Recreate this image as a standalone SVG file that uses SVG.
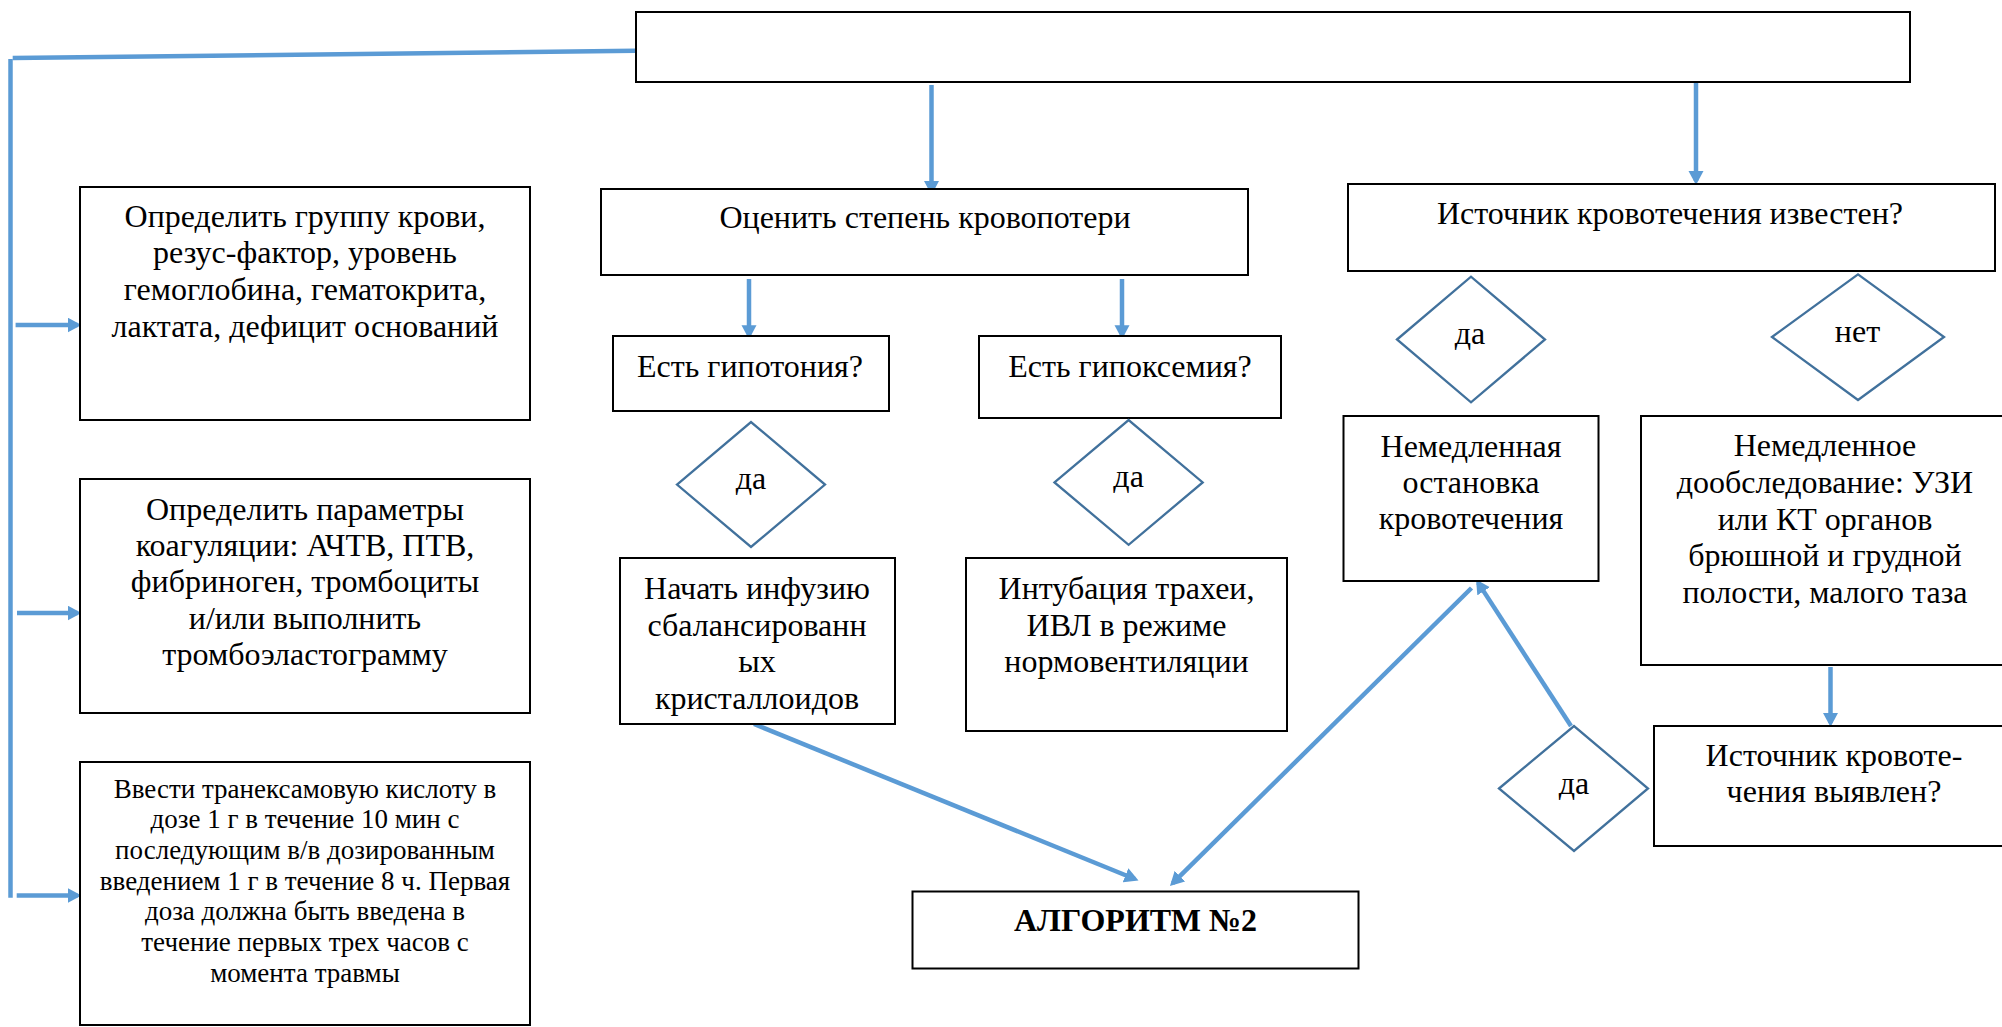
<svg xmlns="http://www.w3.org/2000/svg" width="2002" height="1027" viewBox="0 0 2002 1027">
<style>
  .box { fill: #fff; stroke: #000; stroke-width: 2; }
  .dia { fill: #fff; stroke: #41719C; stroke-width: 2.3; }
  .t { font-family: "Liberation Serif", "Times New Roman", serif; font-size: 32px; fill: #000; text-anchor: middle; }
  .s { font-family: "Liberation Serif", "Times New Roman", serif; font-size: 27px; fill: #000; text-anchor: middle; }
  .b { font-weight: bold; }
  .ln { fill: none; stroke: #5B9BD5; stroke-width: 4.5; stroke-linecap: butt; }
  .ar { fill: none; stroke: #5B9BD5; stroke-width: 4.5; stroke-linecap: butt; marker-end: url(#ah); }
</style>
<defs>
  <marker id="ah" markerUnits="userSpaceOnUse" markerWidth="16" markerHeight="16" refX="10" refY="7.5" orient="auto">
    <path d="M0,0 L14,7.5 L0,15 z" fill="#5B9BD5"/>
  </marker>
</defs>
<rect width="2002" height="1027" fill="#fff"/>

<g id="connectors">
  <path class="ln" d="M635.7 50.7 L12.7 58"/>
  <path class="ln" d="M10.5 59 L10.5 897.7"/>
  <path class="ar" d="M15.6 325 L77.5 325"/>
  <path class="ar" d="M17 613 L77.5 613"/>
  <path class="ar" d="M16.7 895.5 L77.5 895.5"/>
  <path class="ar" d="M931.5 85 L931.5 191"/>
  <path class="ar" d="M1696 76 L1696 181"/>
  <path class="ar" d="M749 279 L749 335.3"/>
  <path class="ar" d="M1122 279 L1122 335.3"/>
  <path class="ar" d="M1830.5 667 L1830.5 723"/>
  <path class="ar" d="M754 724 L1134.8 879"/>
  <path class="ar" d="M1471.5 588 L1172.8 883.2"/>
  <path class="ar" d="M1571 726 L1478.2 582.9"/>
</g>

<g id="main">
  <rect class="box" x="636" y="12" width="1274" height="70"/>
</g>

<g id="blood-group">
  <rect class="box" x="80" y="187" width="450" height="233"/>
  <text class="t" x="305" y="226.7">Определить группу крови,</text>
  <text class="t" x="305" y="263.3">резус-фактор, уровень</text>
  <text class="t" x="305" y="300">гемоглобина, гематокрита,</text>
  <text class="t" x="305" y="336.7">лактата, дефицит оснований</text>
</g>

<g id="coagulation">
  <rect class="box" x="80" y="479" width="450" height="234"/>
  <text class="t" x="305" y="519.5">Определить параметры</text>
  <text class="t" x="305" y="556">коагуляции: АЧТВ, ПТВ,</text>
  <text class="t" x="305" y="592.4">фибриноген, тромбоциты</text>
  <text class="t" x="305" y="629">и/или выполнить</text>
  <text class="t" x="305" y="665">тромбоэластограмму</text>
</g>

<g id="tranexamic">
  <rect class="box" x="80" y="762" width="450" height="263"/>
  <text class="s" x="305" y="797.5">Ввести транексамовую кислоту в</text>
  <text class="s" x="305" y="828.2">дозе 1 г в течение 10 мин с</text>
  <text class="s" x="305" y="858.9">последующим в/в дозированным</text>
  <text class="s" x="305" y="889.6">введением 1 г в течение 8 ч. Первая</text>
  <text class="s" x="305" y="920.3">доза должна быть введена в</text>
  <text class="s" x="305" y="951">течение первых трех часов с</text>
  <text class="s" x="305" y="981.7">момента травмы</text>
</g>

<g id="blood-loss">
  <rect class="box" x="601" y="189" width="647" height="86"/>
  <text class="t" x="925" y="228">Оценить степень кровопотери</text>
</g>

<g id="source-known">
  <rect class="box" x="1348" y="184" width="647" height="87"/>
  <text class="t" x="1670" y="224">Источник кровотечения известен?</text>
</g>

<g id="hypotension">
  <rect class="box" x="613" y="336" width="276" height="75"/>
  <text class="t" x="750" y="377">Есть гипотония?</text>
</g>

<g id="hypoxemia">
  <rect class="box" x="979" y="336" width="302" height="82"/>
  <text class="t" x="1130" y="377">Есть гипоксемия?</text>
</g>

<g id="yes-hypotension">
  <polygon class="dia" points="677,484.6 751,422 825,484.6 751,547"/>
  <text class="t" x="751" y="489">да</text>
</g>

<g id="yes-hypoxemia">
  <polygon class="dia" points="1054.5,482.4 1128.6,420 1202.7,482.4 1128.6,544.8"/>
  <text class="t" x="1128.6" y="487">да</text>
</g>

<g id="yes-known">
  <polygon class="dia" points="1397,339.5 1471,276.7 1545,339.5 1471,402.3"/>
  <text class="t" x="1470" y="344">да</text>
</g>

<g id="no-known">
  <polygon class="dia" points="1772,337 1858,274.3 1944,337 1858,400"/>
  <text class="t" x="1857.5" y="341.7">нет</text>
</g>

<g id="infusion">
  <rect class="box" x="620" y="558" width="275" height="166"/>
  <text class="t" x="757" y="599">Начать инфузию</text>
  <text class="t" x="757" y="636">сбалансированн</text>
  <text class="t" x="757" y="672">ых</text>
  <text class="t" x="757" y="709">кристаллоидов</text>
</g>

<g id="intubation">
  <rect class="box" x="966" y="558" width="321" height="173"/>
  <text class="t" x="1126.5" y="599">Интубация трахеи,</text>
  <text class="t" x="1126.5" y="636">ИВЛ в режиме</text>
  <text class="t" x="1126.5" y="672">нормовентиляции</text>
</g>

<g id="stop-bleeding">
  <rect class="box" x="1343.5" y="416" width="255" height="165"/>
  <text class="t" x="1471" y="457">Немедленная</text>
  <text class="t" x="1471" y="493">остановка</text>
  <text class="t" x="1471" y="529">кровотечения</text>
</g>

<g id="examination">
  <rect class="box" x="1641" y="416" width="380" height="249"/>
  <text class="t" x="1825" y="456">Немедленное</text>
  <text class="t" x="1825" y="493">дообследование: УЗИ</text>
  <text class="t" x="1825" y="530">или КТ органов</text>
  <text class="t" x="1825" y="566">брюшной и грудной</text>
  <text class="t" x="1825" y="603">полости, малого таза</text>
</g>

<g id="source-found">
  <rect class="box" x="1654" y="726" width="370" height="120"/>
  <text class="t" x="1834" y="766">Источник кровоте-</text>
  <text class="t" x="1834" y="802">чения выявлен?</text>
</g>

<g id="yes-found">
  <polygon class="dia" points="1499,788.5 1574,726 1648,788.5 1574,851"/>
  <text class="t" x="1574" y="794">да</text>
</g>

<g id="algorithm2">
  <rect class="box" x="912.5" y="891.5" width="446" height="77"/>
  <text class="t b" x="1135.5" y="931">АЛГОРИТМ №2</text>
</g>
</svg>
